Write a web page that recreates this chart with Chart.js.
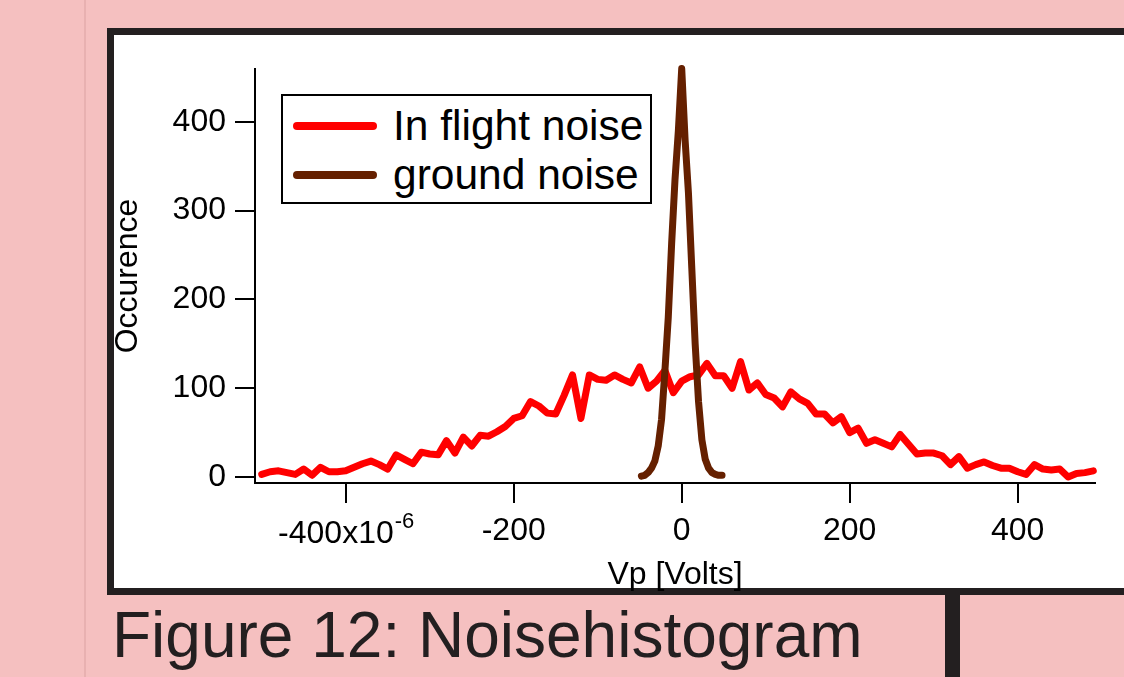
<!DOCTYPE html>
<html>
<head>
<meta charset="utf-8">
<script src="https://cdn.jsdelivr.net/npm/chart.js@4.4.0/dist/chart.umd.min.js"></script>
<style>
html,body{margin:0;padding:0;width:1124px;height:677px;overflow:hidden;background:#f5c0c0;font-family:"Liberation Sans",Arial,sans-serif;}
#rule{position:absolute;left:84px;top:0;width:2px;height:677px;background:#e8b1b1;}
#frame{position:absolute;left:107px;top:28px;width:1060px;height:567px;box-sizing:border-box;border:7px solid #231f20;background:#fff;}
#bar{position:absolute;left:945px;top:595px;width:15px;height:82px;background:#231f20;}
#caption{position:absolute;left:112px;top:603px;font-size:64px;line-height:64px;color:#231f20;white-space:nowrap;}
#chart{position:absolute;left:0;top:0;}
#legend{position:absolute;left:281px;top:94px;width:371px;height:110px;box-sizing:border-box;border:2px solid #000;background:#fff;z-index:2;}
#legend .sw{position:absolute;left:10px;width:84px;height:8px;border-radius:4px;}
#legend .tx{position:absolute;left:110px;font-size:42.5px;line-height:42px;color:#000;white-space:nowrap;}
</style>
</head>
<body>
<div id="rule"></div>
<div id="frame"></div>
<div id="bar"></div>
<div id="caption">Figure 12: Noisehistogram</div>
<canvas id="chart" width="1124" height="677"></canvas>
<div id="legend"></div>
<script>
// ---- data ----
const inflightVp = [-500,-490,-480,-470,-460,-450,-440,-430,-420,-410,
  -400,-390,-380,-370,-360,-350,-340,-330,-320,-310,
  -300,-290,-280,-270,-260,-250,-240,-230,-220,-210,
  -200,-190,-180,-170,-160,-150,-140,-130,-120,-110,
  -100,-90,-80,-70,-60,-50,-40,-30,-20,-10,
  0,10,20,30,40,50,60,70,80,90,
  100,110,120,130,140,150,160,170,180,190,
  200,210,220,230,240,250,260,270,280,290,
  300,310,320,330,340,350,360,370,380,390,
  400,410,420,430,440,450,460,470,480,490];
const inflightCounts = [3,6,7,5,3,9,2,11,6,6,
  7,11,15,18,14,9,25,20,15,28,
  26,25,41,27,45,35,47,46,51,57,
  66,69,85,80,72,71,92,115,66,115,
  110,109,115,110,106,124,100,108,120,95,
  108,113,115,128,114,114,100,130,98,106,
  93,89,79,96,88,83,71,71,61,68,
  50,55,38,42,38,34,48,37,26,27,
  27,24,14,23,10,14,17,13,10,10,
  6,3,14,9,8,9,0,4,5,7];
const groundVp = [-48,-44,-40,-36,-32,-28,-24,-20,-16,-12,-8,-4,0,4,8,12,16,20,24,28,32,36,40,44,48];
const groundCounts = [1,2,5,10,18,35,65,120,180,263,335,390,460,380,320,235,150,85,42,20,10,5,3,2,2];
const seriesLabels = ['In flight noise','ground noise'];
const seriesColors = ['#ff0000','#652000'];
const xTickValues = [-400,-200,0,200,400];
const xTickLabels = ['-400x10','-200','0','200','400'];
const xTickExponents = ['-6','','','',''];
const yTickValues = [0,100,200,300,400];
const xTitle = 'Vp [Volts]';
const yTitle = 'Occurence';

const FONT = '"Liberation Sans", Arial, sans-serif';
const TICK_LEN = 20, TICK_PAD = 9, TICK_SIZE = 32;

const superTickPlugin = {
  id: 'superTick',
  afterDraw(chart) {
    const xs = chart.scales.x, ctx = chart.ctx;
    const midY = xs.top + TICK_LEN + TICK_PAD + TICK_SIZE * 1.2 / 2;
    ctx.save();
    ctx.fillStyle = '#000';
    ctx.textBaseline = 'alphabetic';
    ctx.textAlign = 'left';
    xTickValues.forEach((v, i) => {
      const exp = xTickExponents[i];
      if (!exp) return;
      const px = xs.getPixelForValue(v);
      ctx.font = TICK_SIZE + 'px ' + FONT;
      const wBase = ctx.measureText(xTickLabels[i]).width;
      ctx.font = '22px ' + FONT;
      const wExp = ctx.measureText(exp).width;
      const start = px - (wBase + wExp) / 2;
      const base = midY + 11.5;
      ctx.font = TICK_SIZE + 'px ' + FONT;
      ctx.fillText(xTickLabels[i], start, base);
      ctx.font = '22px ' + FONT;
      ctx.fillText(exp, start + wBase + 1, base - 15);
    });
    ctx.restore();
  }
};

const chart = new Chart(document.getElementById('chart'), {
  type: 'line',
  data: {
    datasets: [
      {
        label: seriesLabels[0],
        data: inflightVp.map((x, i) => ({x, y: inflightCounts[i]})),
        borderColor: seriesColors[0], backgroundColor: seriesColors[0],
        borderWidth: 7, pointRadius: 0, tension: 0, order: 1,
        borderJoinStyle: 'round', borderCapStyle: 'round', clip: false
      },
      {
        label: seriesLabels[1],
        data: groundVp.map((x, i) => ({x, y: groundCounts[i]})),
        borderColor: seriesColors[1], backgroundColor: seriesColors[1],
        borderWidth: 7, pointRadius: 0, tension: 0, order: 0,
        borderJoinStyle: 'round', borderCapStyle: 'round', clip: false
      }
    ]
  },
  options: {
    responsive: false,
    animation: false,
    events: [],
    layout: { padding: { left: 105, top: 69, right: 29, bottom: 79 } },
    plugins: { legend: { display: false }, tooltip: { enabled: false } },
    scales: {
      x: {
        type: 'linear', min: -508, max: 492,
        afterFit(s) { s.height = 677 - 79 - 483; },
        afterBuildTicks(s) { s.ticks = xTickValues.map(v => ({value: v})); },
        border: { display: true, color: '#000', width: 2 },
        grid: { drawOnChartArea: false, drawTicks: true, tickLength: TICK_LEN, color: '#000', lineWidth: 2 },
        ticks: {
          color: '#000', padding: TICK_PAD, maxRotation: 0, autoSkip: false,
          font: { family: FONT, size: TICK_SIZE },
          callback(v) { const i = xTickValues.indexOf(v); return (i < 0 || xTickExponents[i]) ? '' : xTickLabels[i]; }
        },
        title: { display: true, text: xTitle, color: '#000', font: { family: FONT, size: 32 }, padding: { top: 4, bottom: 4 } }
      },
      y: {
        type: 'linear', min: -6.7, max: 459.5,
        afterFit(s) { s.width = 150; },
        afterBuildTicks(s) { s.ticks = yTickValues.map(v => ({value: v})); },
        border: { display: true, color: '#000', width: 2 },
        grid: { drawOnChartArea: false, drawTicks: true, tickLength: TICK_LEN, color: '#000', lineWidth: 2 },
        ticks: { color: '#000', padding: TICK_PAD, font: { family: FONT, size: TICK_SIZE }, callback: v => String(v) },
        title: { display: true, text: yTitle, color: '#000', font: { family: FONT, size: 32 }, padding: { top: 4, bottom: 4 } }
      }
    }
  },
  plugins: [superTickPlugin]
});

// HTML legend built from the chart's datasets
const leg = document.getElementById('legend');
chart.data.datasets.forEach((ds, i) => {
  const sw = document.createElement('div');
  sw.className = 'sw';
  sw.style.top = (26 + 49 * i) + 'px';
  sw.style.background = ds.borderColor;
  const tx = document.createElement('div');
  tx.className = 'tx';
  tx.style.top = (9.4 + 49 * i) + 'px';
  tx.textContent = ds.label;
  leg.appendChild(sw);
  leg.appendChild(tx);
});
</script>
</body>
</html>
